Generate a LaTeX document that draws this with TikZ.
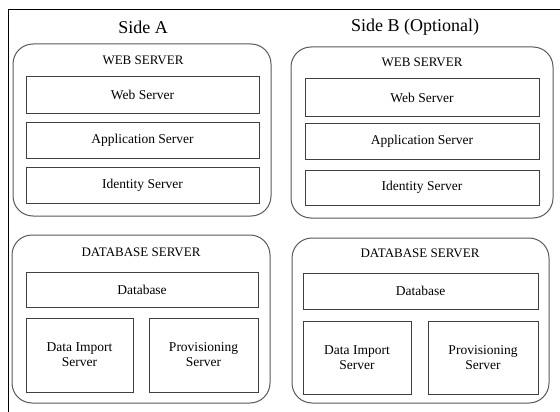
\documentclass[tikz,border=0pt]{standalone}
\usepackage{fontspec}
\setmainfont{Liberation Serif}
\begin{document}
\begin{tikzpicture}[x=1pt,y=-1pt,
  group/.style={draw=black!65,line width=1pt,rounded corners=20pt,minimum width=#1},
  inner/.style={draw=black!75,line width=1pt,font=\fontsize{13.5}{15}\selectfont,align=center,inner sep=0pt},
  head/.style={font=\fontsize{13}{15}\selectfont},
  side/.style={font=\fontsize{18}{20}\selectfont}]
\useasboundingbox (0,0) rectangle (560,412);
\draw[line width=1pt] (560,10) -- (8,10) -- (8,412);
% Side A
\node[side] (sa) at (143,27) {Side A};
\node[draw=black!65,line width=1pt,rounded corners=20pt,minimum width=258pt,minimum height=172pt] (wa) at (142,130) {};
\node[head] (wah) at (143,60) {WEB SERVER};
\node[inner,minimum width=233pt,minimum height=36pt] (wa1) at (142.5,95) {Web Server};
\node[inner,minimum width=233pt,minimum height=36pt] (wa2) at (142.5,140) {Application Server};
\node[inner,minimum width=233pt,minimum height=36pt] (wa3) at (142.5,185) {Identity Server};
\node[draw=black!65,line width=1pt,rounded corners=20pt,minimum width=258pt,minimum height=168pt] (da) at (141,319) {};
\node[head] (dah) at (141,252) {DATABASE SERVER};
\node[inner,minimum width=232pt,minimum height=35pt] (da1) at (142,289.5) {Database};
\node[inner,minimum width=107pt,minimum height=74pt] (da2) at (79.5,355) {Data Import\\Server};
\node[inner,minimum width=109pt,minimum height=74pt] (da3) at (203.5,355) {Provisioning\\Server};
% Side B
\node[side] (sb) at (415,27) {Side B (Optional)};
\node[draw=black!65,line width=1pt,rounded corners=20pt,minimum width=262pt,minimum height=171pt] (wb) at (422,132.5) {};
\node[head] (wbh) at (422,62) {WEB SERVER};
\node[inner,minimum width=234pt,minimum height=37pt] (wb1) at (422,97.5) {Web Server};
\node[inner,minimum width=234pt,minimum height=36pt] (wb2) at (422,141) {Application Server};
\node[inner,minimum width=234pt,minimum height=35pt] (wb3) at (422,187.5) {Identity Server};
\node[draw=black!65,line width=1pt,rounded corners=20pt,minimum width=257pt,minimum height=165pt] (db) at (420.5,320.5) {};
\node[head] (dbh) at (420,253) {DATABASE SERVER};
\node[inner,minimum width=235pt,minimum height=36pt] (db1) at (420.5,291) {Database};
\node[inner,minimum width=108pt,minimum height=73pt] (db2) at (357,357.5) {Data Import\\Server};
\node[inner,minimum width=110pt,minimum height=73pt] (db3) at (483,357.5) {Provisioning\\Server};
\end{tikzpicture}
\end{document}
